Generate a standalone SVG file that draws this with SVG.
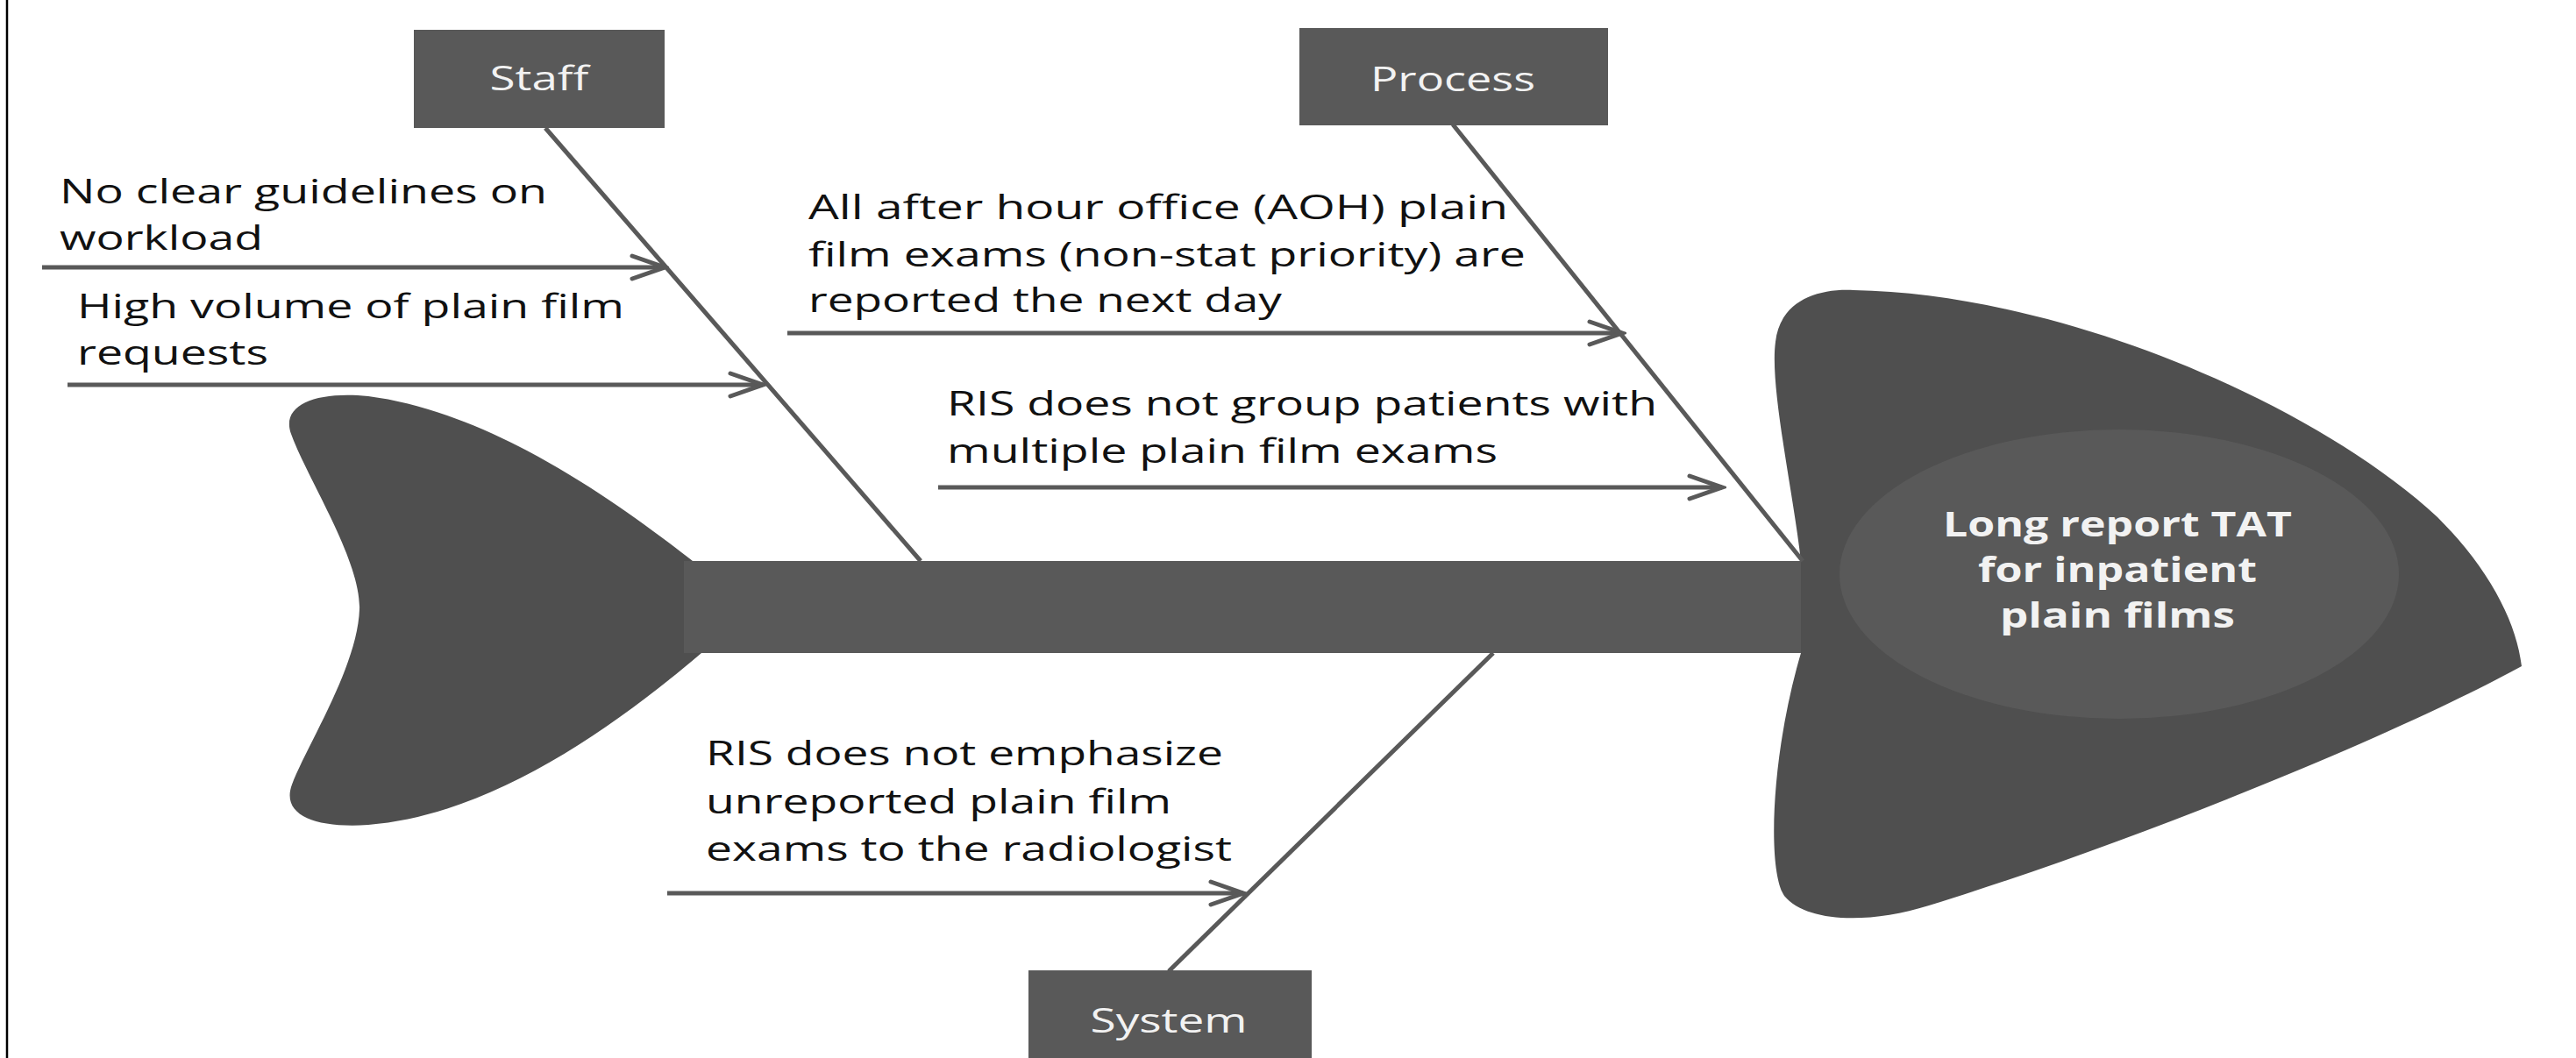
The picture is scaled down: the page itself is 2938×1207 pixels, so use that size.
<svg xmlns="http://www.w3.org/2000/svg" width="2938" height="1207" viewBox="0 0 2938 1207">
<defs>
<style>
.t{font-family:"Open Sans","Liberation Sans",sans-serif;font-size:38px;fill:#111111}
.lbl{font-family:"Open Sans","Liberation Sans",sans-serif;font-size:38px;fill:#f2f2f2;text-anchor:middle}
.hd{font-family:"Open Sans","Liberation Sans",sans-serif;font-size:40px;font-weight:bold;fill:#f2f2f2;text-anchor:middle}
.box{fill:#595959}
.fish{fill:#4f4f4f}
.bone{stroke:#595959;stroke-width:5;fill:none}
.arr{stroke:#595959;stroke-width:5;fill:none;marker-end:url(#ah)}
</style>
<marker id="ah" markerUnits="userSpaceOnUse" viewBox="-45 -20 50 40" refX="0" refY="0" markerWidth="50" markerHeight="40" orient="auto">
<path d="M-37,-13 L0,0 L-37,13" fill="none" stroke="#595959" stroke-width="5" stroke-linecap="round"/>
</marker>
</defs>
<rect x="0" y="0" width="2938" height="1207" fill="#ffffff"/>
<line x1="8" y1="0" x2="8" y2="1207" stroke="#000" stroke-width="2.5"/>

<g id="tail">
<path class="fish" d="M790,640 C700,570 560,470 420,452 C360,446 320,462 332,495 C350,545 412,640 410,695 C408,760 350,850 333,895 C320,930 360,945 420,941 C560,930 700,830 800,745 Z"/>
</g>
<g id="spine">
<rect x="780" y="640" width="1280" height="105" fill="#595959"/>
</g>
<g id="effect">
<path class="fish" d="M2054,640 C2045,560 2018,440 2025,390 C2030,345 2070,329 2114,331 C2350,335 2640,460 2780,590 C2840,650 2870,710 2876,760 C2720,845 2420,965 2200,1033 C2130,1055 2060,1052 2035,1022 C2015,992 2020,860 2054,745 Z"/>
<ellipse cx="2417" cy="655" rx="319" ry="165" fill="#595959"/>
<text class="hd" x="2415" y="612" textLength="398" lengthAdjust="spacingAndGlyphs">Long report TAT</text>
<text class="hd" x="2415" y="664" textLength="318" lengthAdjust="spacingAndGlyphs">for inpatient</text>
<text class="hd" x="2415" y="716" textLength="268" lengthAdjust="spacingAndGlyphs">plain films</text>
</g>

<g id="connectors">
<line class="bone" x1="622" y1="146" x2="1050" y2="640"/>
<line class="bone" x1="1657" y1="142" x2="2056" y2="640"/>
<line class="bone" x1="1333" y1="1108" x2="1703" y2="745"/>
<line class="arr" x1="48" y1="305" x2="758" y2="305"/>
<line class="arr" x1="77" y1="439" x2="870" y2="439"/>
<line class="arr" x1="898" y1="380" x2="1850" y2="380"/>
<line class="arr" x1="1070" y1="556" x2="1964" y2="556"/>
<line class="arr" x1="761" y1="1019" x2="1418" y2="1019"/>
</g>

<g id="staff">
<rect class="box" x="472" y="34" width="286" height="112"/>
<text class="lbl" x="615" y="103" textLength="113" lengthAdjust="spacingAndGlyphs">Staff</text>
</g>
<g id="process">
<rect class="box" x="1482" y="32" width="352" height="111"/>
<text class="lbl" x="1657" y="104" textLength="188" lengthAdjust="spacingAndGlyphs">Process</text>
</g>
<g id="system">
<rect class="box" x="1173" y="1107" width="323" height="110"/>
<text class="lbl" x="1333" y="1178" textLength="179" lengthAdjust="spacingAndGlyphs">System</text>
</g>

<g id="cause-workload">
<text class="t" x="68" y="232" textLength="556" lengthAdjust="spacingAndGlyphs">No clear guidelines on</text>
<text class="t" x="68" y="285" textLength="232" lengthAdjust="spacingAndGlyphs">workload</text>
</g>
<g id="cause-volume">
<text class="t" x="88" y="363" textLength="624" lengthAdjust="spacingAndGlyphs">High volume of plain film</text>
<text class="t" x="88" y="416" textLength="218" lengthAdjust="spacingAndGlyphs">requests</text>
</g>
<g id="cause-aoh">
<text class="t" x="922" y="250" textLength="798" lengthAdjust="spacingAndGlyphs">All after hour office (AOH) plain</text>
<text class="t" x="922" y="304" textLength="818" lengthAdjust="spacingAndGlyphs">film exams (non-stat priority) are</text>
<text class="t" x="922" y="356" textLength="540" lengthAdjust="spacingAndGlyphs">reported the next day</text>
</g>
<g id="cause-group">
<text class="t" x="1080" y="474" textLength="810" lengthAdjust="spacingAndGlyphs">RIS does not group patients with</text>
<text class="t" x="1080" y="528" textLength="628" lengthAdjust="spacingAndGlyphs">multiple plain film exams</text>
</g>
<g id="cause-emphasize">
<text class="t" x="805" y="873" textLength="590" lengthAdjust="spacingAndGlyphs">RIS does not emphasize</text>
<text class="t" x="805" y="928" textLength="531" lengthAdjust="spacingAndGlyphs">unreported plain film</text>
<text class="t" x="805" y="982" textLength="600" lengthAdjust="spacingAndGlyphs">exams to the radiologist</text>
</g>
</svg>
